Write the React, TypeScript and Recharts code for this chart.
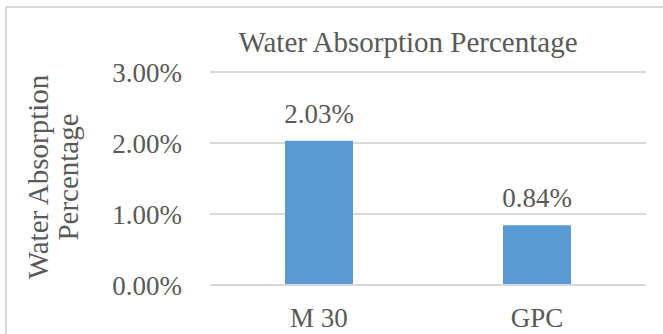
import { BarChart, Bar, XAxis, YAxis, CartesianGrid, LabelList } from 'recharts';

const mixes = ['M 30', 'GPC'];
const absorption = [2.03, 0.84];
const yTicks = [0, 1, 2, 3];

const data = mixes.map((mix, i) => ({ mix, value: absorption[i] }));

const FONT = '"Liberation Serif", serif';
const TEXT = '#595959';
const GRID = '#d9d9d9';

const pct = (v: number) => `${v.toFixed(2)}%`;

// two-line rotated axis title
function AxisTitle() {
  return (
    <g transform="translate(0, 177) rotate(-90)">
      <text textAnchor="middle" fill={TEXT} fontFamily={FONT} fontSize={29}>
        <tspan x={0} y={48}>Water Absorption</tspan>
        <tspan x={0} y={78}>Percentage</tspan>
      </text>
    </g>
  );
}

export default function App() {
  return (
    <div style={{ position: 'absolute', left: 0, top: 0, width: 663, height: 334, overflow: 'hidden', background: '#fff' }}>
      <div
        style={{
          position: 'absolute',
          left: 5,
          top: 6,
          width: 700,
          height: 400,
          border: `2px solid ${GRID}`,
        }}
      />
      <div
        style={{
          position: 'absolute',
          left: 158,
          width: 500,
          top: 25,
          textAlign: 'center',
          fontFamily: FONT,
          fontSize: 29,
          color: TEXT,
          lineHeight: '34px',
          whiteSpace: 'nowrap',
        }}
      >
        Water Absorption Percentage
      </div>
      <div style={{ position: 'absolute', left: 0, top: 0 }}>
        <BarChart width={663} height={334} data={data} margin={{ top: 72, right: 17, bottom: 0, left: 0 }}>
          <CartesianGrid vertical={false} stroke={GRID} strokeWidth={2} />
          <XAxis
            dataKey="mix"
            height={49}
            axisLine={{ stroke: GRID, strokeWidth: 2 }}
            tickLine={false}
            tickSize={0}
            tickMargin={23}
            tick={{ fill: TEXT, fontFamily: FONT, fontSize: 27 }}
          />
          <YAxis
            width={210}
            domain={[0, 3]}
            ticks={yTicks}
            tickFormatter={pct}
            axisLine={false}
            tickLine={false}
            tickSize={0}
            tickMargin={28}
            tick={{ fill: TEXT, fontFamily: FONT, fontSize: 27 }}
            label={{ content: AxisTitle }}
          />
          <Bar dataKey="value" fill="#5b9bd5" barSize={68} isAnimationActive={false}>
            <LabelList
              dataKey="value"
              position="top"
              offset={18}
              formatter={(v: number) => pct(v)}
              fill={TEXT}
              fontFamily={FONT}
              fontSize={27}
            />
          </Bar>
        </BarChart>
      </div>
    </div>
  );
}
